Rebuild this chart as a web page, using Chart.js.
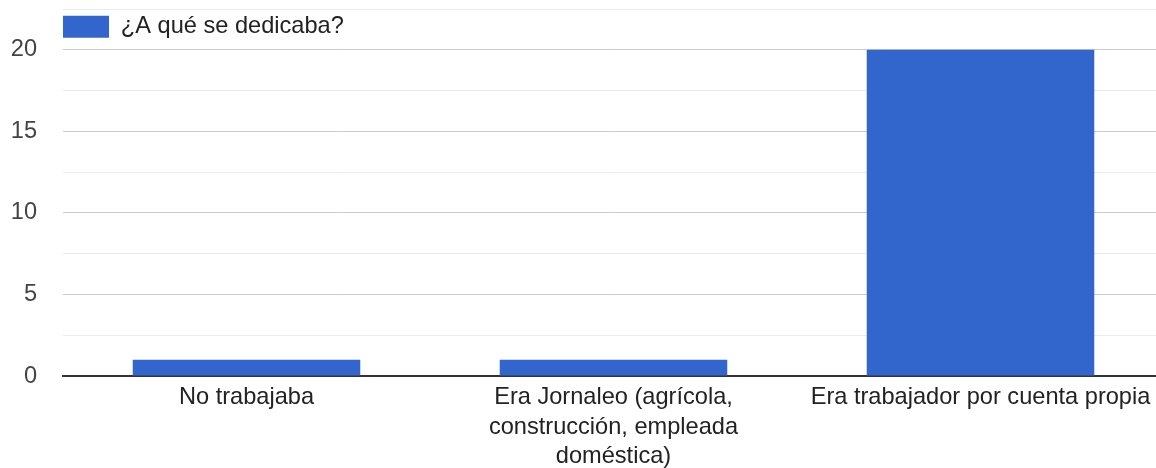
<!DOCTYPE html>
<html>
<head>
<meta charset="utf-8">
<script src="https://cdn.jsdelivr.net/npm/chart.js@4/dist/chart.umd.min.js"></script>
<style>
  html, body { margin: 0; padding: 0; background: #fff; overflow: hidden; }
  #wrap { width: 1164px; height: 468px; }
</style>
</head>
<body>
<div id="wrap"><canvas id="myChart"></canvas></div>
<script>
var categories = [
    'No trabajaba',
    ['Era Jornaleo (agrícola,', 'construcción, empleada', 'doméstica)'],
    'Era trabajador por cuenta propia'
];
var seriesLabel = '¿A qué se dedicaba?';
var seriesValues = [1, 1, 20];
var yTickLabels = [0, 5, 10, 15, 20];

var ctx = document.getElementById('myChart').getContext('2d');
var fontFamily = '"Liberation Sans", Arial, sans-serif';

var graphData = {
    type: 'bar',
    data: {
        labels: categories,
        datasets: [{
            label: seriesLabel,
            data: seriesValues,
            backgroundColor: '#3366cc',
            borderWidth: 0,
            barPercentage: 0.62,
            categoryPercentage: 1
        }]
    },
    options: {
        responsive: true,
        maintainAspectRatio: false,
        animation: false,
        layout: { padding: { top: 9, left: 0, right: 0, bottom: 0 } },
        plugins: {
            tooltip: { enabled: false },
            legend: {
                position: 'chartArea',
                fullSize: false,
                align: 'start',
                // empty title only pushes the legend item down a bit
                title: {
                    display: true,
                    text: '',
                    font: { size: 1, lineHeight: 1 },
                    padding: { top: 14, bottom: 0 }
                },
                labels: {
                    boxWidth: 46,
                    boxHeight: 22,
                    padding: 0,
                    color: '#222',
                    font: { family: fontFamily, size: 23.6 }
                }
            }
        },
        scales: {
            x: {
                grid: { display: false },
                border: { color: '#333', width: 2 },
                ticks: {
                    color: '#222',
                    padding: -1,
                    maxRotation: 0,
                    autoSkip: false,
                    font: { family: fontFamily, size: 23.6, lineHeight: 1.25 }
                },
                afterFit: function (scale) { scale.height = 92; }
            },
            y: {
                min: 0,
                max: 22.5,
                border: { display: false },
                grid: {
                    drawTicks: false,
                    color: function (c) {
                        if (c.tick.value === 0) return 'rgba(0,0,0,0)';
                        return yTickLabels.indexOf(c.tick.value) >= 0 ? '#cccccc' : '#ebebeb';
                    }
                },
                ticks: {
                    stepSize: 2.5,
                    padding: 26,
                    color: '#444',
                    font: { family: fontFamily, size: 23.6 },
                    callback: function (v) {
                        return yTickLabels.indexOf(v) >= 0 ? String(v) : '';
                    }
                },
                afterFit: function (scale) {
                    scale.width = 63;
                    scale.paddingTop = 0;
                    scale.paddingBottom = 0;
                }
            }
        }
    }
};

var myChart = new Chart(ctx, graphData);
</script>
</body>
</html>
